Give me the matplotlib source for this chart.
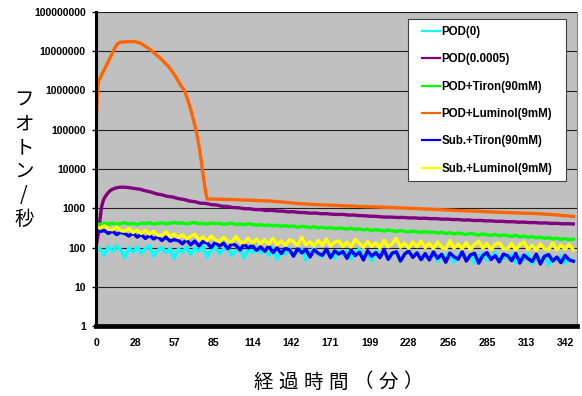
import numpy as np
import matplotlib.pyplot as plt
from matplotlib.patches import Rectangle
from matplotlib.ticker import FixedLocator, NullLocator

# sampling grid (minutes) for the noisy traces
t_grid = np.arange(0, 349, 3)

# POD(0)
pod0 = [102, 90, 64, 105, 80, 110, 86, 55, 98, 76, 104, 72, 93, 112, 60, 84, 101, 74, 95, 52,
        92, 75, 103, 66, 96, 81, 108, 57, 88, 99, 70, 91, 105, 63, 82, 100, 54, 90, 74, 97,
        72, 90, 62, 97, 50, 84, 68, 93, 60, 79, 89, 48, 75, 95, 66, 58, 87, 71, 53, 83,
        65, 81, 52, 76, 90, 57, 72, 46, 80, 62, 86, 51, 69, 78, 44, 66, 83, 56, 74, 49,
        63, 52, 77, 44, 68, 56, 73, 42, 61, 75, 50, 64, 39, 60, 71, 47, 57, 74, 43, 60,
        52, 66, 41, 59, 48, 69, 38, 55, 46, 64, 36, 54, 47, 61, 40, 52, 44]

# POD(0.0005)
pod_t = [0, 1, 2, 3, 4, 5, 6, 8, 10, 12, 14, 17, 20,
         24, 28, 32, 36, 40, 44, 48, 52, 56, 60, 64, 68, 72, 76, 80, 84, 88, 92, 96, 100,
         104, 108, 112, 116, 120, 124, 128, 132, 136, 140, 144, 148, 152, 156, 160, 164, 168, 172, 176, 180,
         184, 188, 192, 196, 200, 204, 208, 212, 216, 220, 224, 228, 232, 236, 240, 244, 248, 252, 256, 260,
         264, 268, 272, 276, 280, 284, 288, 292, 296, 300, 304, 308, 312, 316, 320, 324, 328, 332, 336, 340, 344, 348]
pod = [107, 160, 270, 550, 1050, 1450, 1800, 2300, 2750, 3050, 3250, 3420, 3450,
       3360, 3180, 3050, 2790, 2590, 2330, 2200, 2010, 1930, 1760, 1680, 1530, 1470, 1350, 1330, 1240, 1210, 1120, 1110, 1040,
       1030, 975, 970, 925, 920, 875, 885, 850, 845, 810, 815, 780, 775, 750, 755, 725, 728, 705, 695, 698,
       670, 672, 650, 645, 625, 622, 603, 596, 594, 580, 584, 566, 570, 554, 558, 542, 545, 528, 530, 514,
       517, 500, 503, 487, 490, 476, 478, 463, 466, 452, 455, 441, 444, 430, 433, 420, 423, 410, 413, 401, 404, 397]

# POD+Tiron(90mM)
pod_tiron = [402, 388, 415, 396, 421, 390, 408, 427, 399, 413, 384, 418, 404, 429, 395, 411, 423, 401, 416, 432,
             410, 425, 398, 419, 433, 404, 415, 392, 421, 406, 412, 389, 401, 417, 383, 397, 378, 405, 386, 372,
             381, 362, 375, 356, 369, 348, 360, 343, 355, 328, 347, 336, 320, 341, 315, 329, 308, 322, 301, 314,
             306, 293, 310, 288, 297, 281, 292, 270, 286, 275, 262, 280, 266, 255, 271, 258, 248, 263, 251, 244,
             254, 240, 249, 233, 246, 228, 239, 221, 234, 225, 214, 229, 218, 207, 222, 211, 203, 215, 199, 209,
             201, 192, 205, 187, 196, 181, 190, 176, 184, 170, 179, 165, 173, 160, 168, 158, 163]

# POD+Luminol(9mM)
lum_t = [0, 1, 1.8, 4, 7, 10, 12, 14, 16, 18, 21, 25, 29, 32, 35, 38, 41, 44, 47, 50, 53, 56, 59, 62,
         64.5, 67, 69, 71, 73, 75, 77, 78.5, 80, 81.2,
         84, 90, 96, 102, 108, 114, 120, 126, 132, 138, 144, 150, 156, 162, 168, 174, 180, 186, 192, 198,
         204, 210, 216, 222, 228, 234, 240, 246, 252, 258, 264, 270, 276, 282, 288, 294, 300, 306, 312, 318,
         324, 330, 336, 342, 348]
pod_lum = [1.3e5, 8.0e5, 1.7e6, 2.45e6, 4.0e6, 6.5e6, 9.1e6, 1.26e7, 1.58e7, 1.70e7, 1.74e7, 1.76e7, 1.74e7,
           1.62e7, 1.41e7, 1.20e7, 1.0e7, 8.1e6, 6.6e6, 5.1e6, 4.0e6, 2.9e6, 2.0e6, 1.3e6,
           1.0e6, 5.6e5, 3.3e5, 1.8e5, 9.5e4, 4.0e4, 1.4e4, 5600, 2500, 1700,
           1720, 1695, 1670, 1655, 1625, 1600, 1560, 1530, 1480, 1420, 1350, 1300, 1260, 1230, 1205, 1185, 1160,
           1140, 1115, 1095, 1080, 1060, 1045, 1020, 1000, 980, 955, 935, 915, 895, 875, 860, 845, 825, 805, 790,
           775, 765, 750, 740, 720, 700, 675, 645, 620]

# Sub.+Tiron(90mM)
sub_tiron = [290, 255, 272, 228, 262, 214, 243, 226, 196, 235, 184, 214, 170, 203, 165, 192, 150, 184, 146, 158,
             152, 124, 158, 117, 146, 110, 141, 131, 100, 137, 108, 129, 93, 124, 114, 86, 121, 97, 113, 84,
             104, 80, 109, 74, 99, 70, 96, 87, 60, 94, 73, 90, 57, 88, 71, 63, 91, 55, 82, 68,
             79, 53, 86, 62, 76, 48, 83, 60, 74, 55, 88, 50, 72, 78, 45, 68, 81, 56, 73, 49,
             70, 48, 77, 53, 67, 42, 72, 58, 50, 78, 45, 65, 71, 40, 63, 74, 49, 62, 43, 68,
             62, 46, 71, 40, 64, 52, 44, 68, 38, 60, 66, 45, 57, 41, 63, 48, 45]

# Sub.+Luminol(9mM)
sub_lum = [345, 310, 362, 296, 282, 335, 268, 259, 305, 240, 276, 228, 270, 219, 258, 206, 201, 250, 190, 222,
           178, 210, 165, 192, 218, 158, 184, 149, 196, 154, 141, 182, 147, 137, 190, 140, 132, 172, 129, 163,
           126, 158, 120, 172, 117, 148, 112, 156, 141, 110, 180, 117, 140, 108, 152, 114, 165, 109, 137, 148,
           106, 137, 103, 160, 128, 100, 143, 107, 131, 97, 152, 104, 126, 172, 101, 130, 96, 139, 105, 146,
           99, 129, 94, 138, 102, 91, 150, 97, 123, 93, 135, 89, 119, 145, 95, 126, 87, 121, 132, 94,
           91, 128, 87, 117, 138, 89, 113, 85, 123, 93, 88, 133, 86, 116, 90, 120, 87]

x_ticks = [0, 28.5, 57, 85.5, 114, 142.5, 171, 199.5, 228, 256.5, 285, 313.5, 342]
x_labels = ['0', '28', '57', '85', '114', '142', '171', '199', '228', '256', '285', '313', '342']
y_ticks = [1, 10, 100, 1000, 10000, 100000, 1000000, 10000000, 100000000]
y_labels = [str(v) for v in y_ticks]

num_font = dict(family='Liberation Sans', weight='bold', size=7.5)

fig = plt.figure(figsize=(5.82, 3.96), dpi=100)
ax = fig.add_axes([96 / 582, 1 - 326 / 396, 481 / 582, 314 / 396])
ax.set_facecolor('#c0c0c0')

lw = 2.4
ax.plot(t_grid, pod0, color='#00ffff', lw=lw, label='POD(0)')
ax.plot(pod_t, pod, color='#800080', lw=lw, label='POD(0.0005)')
ax.plot(t_grid, pod_tiron, color='#00ff00', lw=lw, label='POD+Tiron(90mM)')
ax.plot(lum_t, pod_lum, color='#ff6600', lw=lw, label='POD+Luminol(9mM)')
ax.plot(t_grid, sub_tiron, color='#0000ff', lw=lw, label='Sub.+Tiron(90mM)')
ax.plot(t_grid, sub_lum, color='#ffff00', lw=lw, label='Sub.+Luminol(9mM)')

ax.set_yscale('log')
ax.set_ylim(1, 1e8)
ax.set_xlim(0, 350.7)
ax.yaxis.set_major_locator(FixedLocator(y_ticks))
ax.yaxis.set_minor_locator(NullLocator())
ax.set_yticklabels(y_labels, fontdict=num_font)
ax.set_xticks(x_ticks)
ax.set_xticklabels(x_labels, fontdict=num_font)
ax.tick_params(axis='y', direction='out', length=3, width=1, pad=4.3)
ax.tick_params(axis='x', length=0, pad=9)

ax.grid(axis='y', color='#202020', lw=0.8)
ax.set_axisbelow(True)
ax.spines['top'].set_visible(False)
ax.spines['right'].set_color('#808080')
ax.spines['right'].set_linewidth(0.8)
ax.spines['left'].set_linewidth(2.2)
ax.spines['bottom'].set_linewidth(3.4)

# white legend box, drawn separately so the padding can be set freely
ax.add_patch(Rectangle((408 / 582, 1 - 181 / 396), 158 / 582, 162 / 396,
                       transform=fig.transFigure, facecolor='white',
                       edgecolor='#404040', lw=0.8, zorder=4, clip_on=False))
leg = ax.legend(loc='upper left', bbox_to_anchor=(422 / 582, 1 - 26 / 396),
                bbox_transform=fig.transFigure, borderaxespad=0, borderpad=0,
                prop=num_font | dict(size=8.3), handlelength=1.56, handletextpad=0.1,
                labelspacing=1.33, frameon=False)
for h in leg.legend_handles:
    h.set_linewidth(1.6)

# vertical axis title, one character per line
jp = ['Noto Sans CJK JP', 'DejaVu Sans']
for i, ch in enumerate('フオトン/秒'):
    fig.text(24 / 582, 1 - (100 + i * 23.8) / 396, ch, family=jp, size=14,
             ha='center', va='center')

# horizontal axis title with wide letter spacing
for i, ch in enumerate('経過時間（分）'):
    fig.text((263 + i * 25) / 582, 1 - 382 / 396, ch, family=jp, size=14,
             ha='center', va='center')

fig.savefig('out.png', dpi=100)
